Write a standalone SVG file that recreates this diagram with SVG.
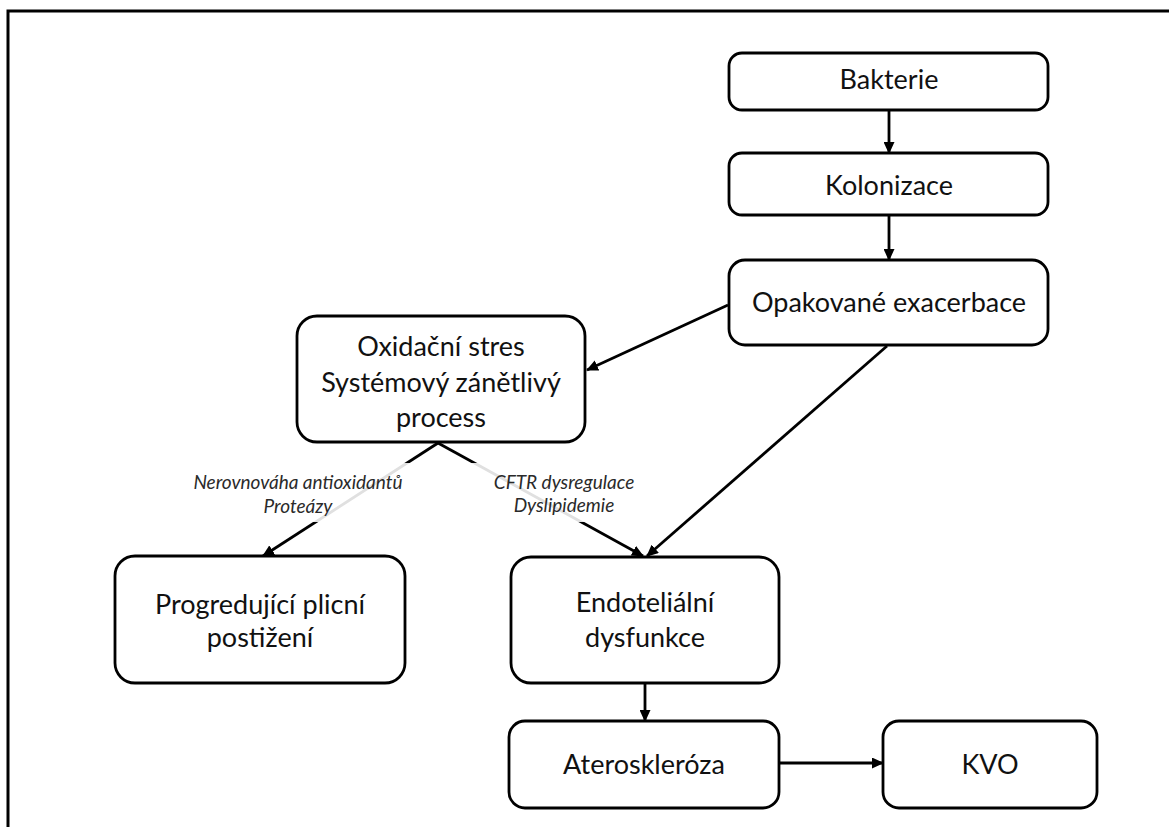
<svg xmlns="http://www.w3.org/2000/svg" width="1169" height="827" viewBox="0 0 1169 827">
<style>
.box{fill:#fff;stroke:#000;stroke-width:2.8}
.t{font-family:Lato,"Liberation Sans",sans-serif;font-size:27px;fill:#111;text-anchor:middle}
.l{font-family:Lato,"Liberation Sans",sans-serif;font-size:19px;font-style:italic;fill:#2a2a2a;text-anchor:middle}
.c{stroke:#000;stroke-width:2.8;fill:none;marker-end:url(#ah)}
</style>
<defs>
<marker id="ah" markerUnits="userSpaceOnUse" markerWidth="12" markerHeight="11" viewBox="0 0 12 11" refX="11" refY="5.5" orient="auto">
<path d="M0,0 L12,5.5 L0,11 z" fill="#000"/>
</marker>
</defs>
<rect width="1169" height="827" fill="#fff"/>
<path d="M8,827 V11 H1169" fill="none" stroke="#000" stroke-width="3"/>
<g id="connectors">
<line class="c" x1="889" y1="110" x2="889" y2="153"/>
<line class="c" x1="889" y1="215" x2="889" y2="260"/>
<line class="c" x1="728" y1="305" x2="587" y2="370"/>
<line class="c" x1="887" y1="346" x2="647" y2="556"/>
<line class="c" x1="438" y1="443" x2="263" y2="556"/>
<line class="c" x1="438" y1="443" x2="643" y2="556"/>
<line class="c" x1="645" y1="683" x2="645" y2="721"/>
<line class="c" x1="779" y1="763" x2="883" y2="763"/>
</g>
<g id="label-left">
<rect x="186" y="463" width="226" height="59" fill="#fff" opacity="0.88"/>
<text class="l" x="298" y="489">Nerovnováha antioxidantů</text>
<text class="l" x="298" y="513">Proteázy</text>
</g>
<g id="label-right">
<rect x="470" y="463" width="168" height="59" fill="#fff" opacity="0.88"/>
<text class="l" x="564" y="489">CFTR dysregulace</text>
<text class="l" x="564" y="512">Dyslipidemie</text>
</g>
<g id="bakterie">
<rect class="box" x="729" y="53" width="319" height="57" rx="13"/>
<text class="t" x="889" y="89">Bakterie</text>
</g>
<g id="kolonizace">
<rect class="box" x="729" y="153" width="319" height="62" rx="13"/>
<text class="t" x="889" y="195">Kolonizace</text>
</g>
<g id="exacerbace">
<rect class="box" x="729" y="260" width="319" height="85" rx="16"/>
<text class="t" x="889" y="312">Opakované exacerbace</text>
</g>
<g id="oxidacni">
<rect class="box" x="297" y="316" width="288" height="126" rx="20"/>
<text class="t" x="441" y="356">Oxidační stres</text>
<text class="t" x="441" y="392">Systémový zánětlivý</text>
<text class="t" x="441" y="427">process</text>
</g>
<g id="progredujici">
<rect class="box" x="115" y="556" width="290" height="127" rx="20"/>
<text class="t" x="260" y="614">Progredující plicní</text>
<text class="t" x="260" y="647">postižení</text>
</g>
<g id="endotelialni">
<rect class="box" x="511" y="557" width="268" height="126" rx="20"/>
<text class="t" x="645" y="612">Endoteliální</text>
<text class="t" x="645" y="647">dysfunkce</text>
</g>
<g id="ateroskleroza">
<rect class="box" x="509" y="721" width="270" height="87" rx="16"/>
<text class="t" x="644" y="774">Ateroskleróza</text>
</g>
<g id="kvo">
<rect class="box" x="883" y="721" width="214" height="87" rx="16"/>
<text class="t" x="990" y="774">KVO</text>
</g>
</svg>
